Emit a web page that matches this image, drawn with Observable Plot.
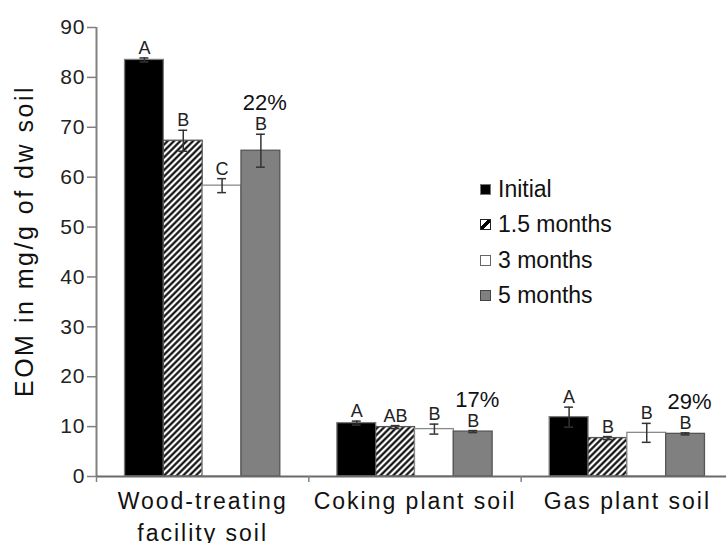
<!DOCTYPE html>
<html>
<head>
<meta charset="utf-8">
<script src="https://cdn.jsdelivr.net/npm/d3@7"></script>
<script src="https://cdn.jsdelivr.net/npm/@observablehq/plot@0.6"></script>
<style>
  html, body { margin: 0; padding: 0; background: white; }
  #wrap { position: relative; width: 726px; height: 543px; overflow: hidden; font-family: "Liberation Sans", Arial, sans-serif; }
  #wrap svg { overflow: hidden; }
  [aria-label="y-axis tick label"] text { letter-spacing: 1px; }
  .legend { position: absolute; left: 480px; top: 172px; color: #111; font-size: 23px; line-height: 35.3px; }
  .legend div { display: flex; align-items: center; white-space: nowrap; }
  .sw { width: 9px; height: 9px; margin-right: 7px; box-sizing: content-box; }
</style>
</head>
<body>
<div id="wrap"></div>
<script>
// ---- data ----
const groups = ["Wood-treating\nfacility soil", "Coking plant soil", "Gas plant soil"];
const series = ["Initial", "1.5 months", "3 months", "5 months"];
const initialVals = [83.5, 10.7, 11.9];
const initialErr  = [0.4, 0.4, 2.0];
const m15Vals = [67.3, 9.9, 7.7];
const m15Err  = [2.1, 0.3, 0.3];
const m3Vals = [58.3, 9.5, 8.75];
const m3Err  = [1.4, 1.0, 1.9];
const m5Vals = [65.3, 9.0, 8.55];
const m5Err  = [3.3, 0.2, 0.2];
const initialLetters = ["A", "A", "A"];
const m15Letters = ["B", "AB", "B"];
const m3Letters = ["C", "B", "B"];
const m5Letters = ["B", "B", "B"];
const percentLabels = ["22%", "17%", "29%"];
const yTicks = [0, 10, 20, 30, 40, 50, 60, 70, 80, 90];
const yTitle = "EOM in mg/g of dw soil";

const valsBySeries = [initialVals, m15Vals, m3Vals, m5Vals];
const errBySeries = [initialErr, m15Err, m3Err, m5Err];
const lettersBySeries = [initialLetters, m15Letters, m3Letters, m5Letters];

const fills = ["black", "url(#hatch)", "white", "#808080"];
const strokes = ["#7a7a7a", "#555", "#8a8a8a", "#555"];

const bw = 0.1828;      // bar width as share of group slot
const capW = 0.021;     // half-width of error caps

const table = [];
groups.forEach((g, gi) => series.forEach((s, si) => {
  table.push({group: g, gi, series: s, si,
    value: valsBySeries[si][gi], err: errBySeries[si][gi], letter: lettersBySeries[si][gi]});
}));
const x1 = d => d.gi + 0.5 + (d.si - 2) * bw;
const x2 = d => x1(d) + bw;
const xc = d => x1(d) + bw / 2;

const pctData = groups.map((g, gi) => ({gi, si: 3, value: m5Vals[gi], err: m5Err[gi], label: percentLabels[gi]}));
const groupData = groups.map((g, gi) => ({gi, label: g}));

const font = "Liberation Sans, Arial, sans-serif";

const chart = Plot.plot({
  width: 726,
  height: 543,
  marginLeft: 96,
  marginRight: 0,
  marginTop: 27,
  marginBottom: 67,
  style: {fontFamily: font, background: "white", color: "#222"},
  x: {domain: [0, 3], range: [96, 733], axis: null},
  y: {domain: [0, 90], axis: null},
  marks: [
    ...series.map((s, si) => Plot.rectY(table.filter(d => d.si === si), {
      x1, x2, y1: 0, y2: "value", fill: fills[si], stroke: strokes[si], strokeWidth: 1.3
    })),
    Plot.ruleX(table, {x: xc, y1: d => d.value - d.err, y2: d => d.value + d.err, stroke: "#333", strokeWidth: 1.5}),
    Plot.ruleY(table, {y: d => d.value + d.err, x1: d => xc(d) - capW, x2: d => xc(d) + capW, stroke: "#333", strokeWidth: 1.5}),
    Plot.ruleY(table, {y: d => d.value - d.err, x1: d => xc(d) - capW, x2: d => xc(d) + capW, stroke: "#333", strokeWidth: 1.5}),
    Plot.text(table, {x: xc, y: d => d.value + d.err, text: "letter", dy: -4, lineAnchor: "bottom", fontSize: 18, fill: "#222"}),
    Plot.text(pctData, {x: xc, y: d => d.value + d.err, text: "label", dy: -24, dx: 4, lineAnchor: "bottom", fontSize: 22, fill: "#111"}),
    Plot.ruleX([0], {stroke: "#808080", strokeWidth: 2}),
    Plot.ruleY([0], {stroke: "#6a6a6a", strokeWidth: 1.8}),
    Plot.axisY({ticks: yTicks, tickSize: 9, tickPadding: 2, fontSize: 21, stroke: "#808080", strokeWidth: 1.5, label: null, fill: "#222"}),
    Plot.axisX({ticks: [0, 1, 2, 3], tickSize: 6, tickFormat: () => "", stroke: "#808080", strokeWidth: 1.5, label: null}),
    Plot.text(groupData, {x: d => d.gi + 0.5, y: 0, text: "label", dy: 10, lineAnchor: "top", lineHeight: 1.38, fontSize: 23, fill: "#111", className: "grouplabels"}),
    Plot.text([yTitle], {frameAnchor: "left", rotate: -90, dx: -64, dy: -11, lineAnchor: "bottom", textAnchor: "middle", fontSize: 25, fill: "#111", className: "ytitle"})
  ]
});

// letter spacing for the wide axis texts (match by content, robust to class support)
const groupSet = new Set(groups.map(g => g.replace(/\n/g, "")));
d3.select(chart).selectAll("text").each(function() {
  const t = this.textContent;
  if (t === yTitle) this.style.letterSpacing = "2.5px";
  else if (groupSet.has(t)) this.style.letterSpacing = "2px";
});

// hatch pattern
const defs = d3.select(chart).insert("defs", ":first-child");
const pw = 4.5;
const pat = defs.append("pattern").attr("id", "hatch").attr("patternUnits", "userSpaceOnUse")
  .attr("width", pw).attr("height", pw).attr("patternTransform", "rotate(45)");
pat.append("rect").attr("width", pw).attr("height", pw).attr("fill", "white");
pat.append("line").attr("x1", pw / 2).attr("y1", -1).attr("x2", pw / 2).attr("y2", pw + 1).attr("stroke", "black").attr("stroke-width", 2.1);

const wrap = document.getElementById("wrap");
wrap.appendChild(chart);

// legend
const swStyles = [
  "background:black;border:1px solid #777;",
  "background:linear-gradient(to bottom right, white 36%, black 36%, black 64%, white 64%);border:1px solid #222;",
  "background:white;border:1px solid #666;",
  "background:#808080;border:1px solid #444;"
];
const legend = document.createElement("div");
legend.className = "legend";
series.forEach((s, i) => {
  const row = document.createElement("div");
  const sw = document.createElement("span");
  sw.className = "sw";
  sw.style.cssText = swStyles[i];
  const t = document.createElement("span");
  t.textContent = s;
  row.appendChild(sw);
  row.appendChild(t);
  legend.appendChild(row);
});
wrap.appendChild(legend);
</script>
</body>
</html>
